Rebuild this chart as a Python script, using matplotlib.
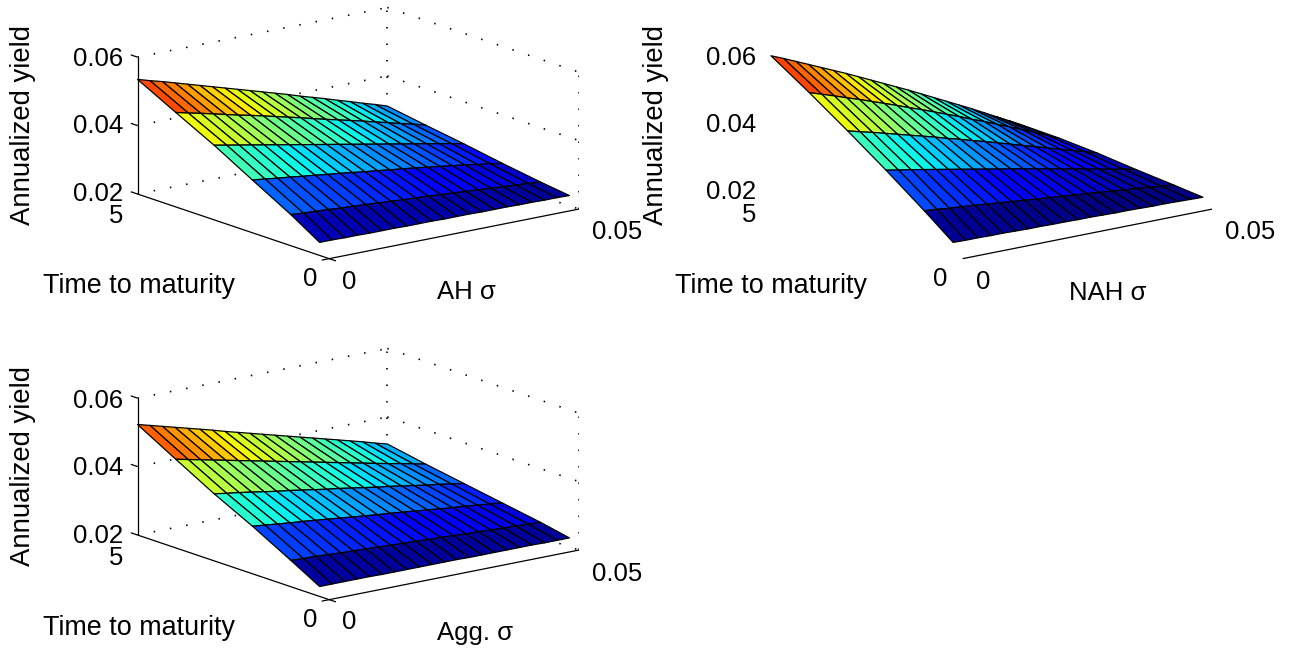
import numpy as np
import matplotlib
matplotlib.use("Agg")
import matplotlib.pyplot as plt
from mpl_toolkits.mplot3d import proj3d

plt.rcParams['font.family'] = ['Liberation Sans', 'DejaVu Sans']

W, H = 1298, 654
sigma = np.array([0.0025 * i for i in range(21)])
maturity = np.array([0.25, 1, 2, 3, 4, 5])

ah_yield = [
 [.0238,.0238,.0237,.0237,.0236,.0236,.0236,.0235,.0235,.0235,.0234,.0234,.0234,.0233,.0233,.0233,.0232,.0232,.0231,.0231,.0230],
 [.0291,.0288,.0286,.0284,.0281,.0279,.0277,.0274,.0272,.0269,.0267,.0265,.0262,.0260,.0257,.0255,.0252,.0249,.0247,.0244,.0241],
 [.0354,.0350,.0345,.0341,.0336,.0332,.0327,.0323,.0318,.0313,.0309,.0304,.0300,.0295,.0290,.0285,.0280,.0275,.0269,.0264,.0258],
 [.0418,.0411,.0404,.0397,.0390,.0383,.0376,.0369,.0362,.0355,.0348,.0341,.0334,.0327,.0320,.0313,.0306,.0299,.0292,.0285,.0277],
 [.0476,.0467,.0459,.0450,.0441,.0432,.0424,.0415,.0406,.0397,.0388,.0378,.0369,.0360,.0351,.0342,.0332,.0323,.0313,.0304,.0294],
 [.0535,.0524,.0514,.0503,.0492,.0481,.0470,.0459,.0448,.0437,.0426,.0415,.0404,.0392,.0381,.0370,.0358,.0347,.0335,.0324,.0312],
]
nah_yield = [
 [.0238,.0237,.0237,.0236,.0236,.0235,.0234,.0234,.0233,.0233,.0232,.0232,.0231,.0230,.0230,.0229,.0228,.0228,.0227,.0226,.0225],
 [.0302,.0299,.0295,.0292,.0289,.0285,.0282,.0278,.0275,.0271,.0268,.0265,.0261,.0258,.0254,.0251,.0247,.0244,.0240,.0236,.0232],
 [.0383,.0376,.0370,.0363,.0356,.0349,.0342,.0335,.0328,.0321,.0314,.0307,.0300,.0292,.0285,.0278,.0270,.0263,.0255,.0248,.0240],
 [.0460,.0450,.0441,.0431,.0421,.0411,.0401,.0391,.0380,.0370,.0359,.0349,.0338,.0327,.0316,.0305,.0294,.0283,.0272,.0261,.0250],
 [.0534,.0522,.0510,.0497,.0485,.0472,.0459,.0446,.0432,.0419,.0405,.0391,.0377,.0362,.0348,.0333,.0318,.0303,.0287,.0272,.0256],
 [.0604,.0589,.0573,.0557,.0541,.0525,.0509,.0492,.0475,.0458,.0441,.0424,.0406,.0388,.0370,.0352,.0334,.0315,.0296,.0277,.0258],
]
agg_yield = [
 [.0229,.0229,.0229,.0229,.0229,.0228,.0228,.0228,.0228,.0228,.0228,.0228,.0227,.0227,.0227,.0227,.0227,.0227,.0226,.0226,.0226],
 [.0277,.0275,.0274,.0272,.0270,.0268,.0267,.0265,.0263,.0262,.0260,.0258,.0257,.0255,.0253,.0252,.0250,.0248,.0247,.0245,.0243],
 [.0339,.0335,.0331,.0327,.0324,.0320,.0316,.0312,.0308,.0304,.0300,.0297,.0293,.0289,.0285,.0281,.0277,.0274,.0270,.0266,.0262],
 [.0396,.0390,.0385,.0379,.0373,.0367,.0362,.0356,.0350,.0344,.0339,.0333,.0327,.0321,.0316,.0310,.0304,.0298,.0293,.0287,.0281],
 [.0459,.0451,.0443,.0435,.0427,.0419,.0411,.0403,.0395,.0387,.0379,.0371,.0363,.0355,.0347,.0339,.0331,.0323,.0316,.0308,.0300],
 [.0523,.0513,.0503,.0493,.0483,.0473,.0463,.0452,.0442,.0432,.0422,.0412,.0402,.0392,.0382,.0372,.0362,.0352,.0342,.0331,.0321],
]
ah_color_limits = (0.0223, 0.0528)
nah_color_limits = (0.0230, 0.0593)
agg_color_limits = (0.0220, 0.0517)
x_limits = (0, 0.05)
t_limits = (0, 5)
z_limits = (0.02, 0.06)
z_ticks = [0.02, 0.04, 0.06]
z_tick_labels = ['0.02', '0.04', '0.06']
y_label = 'Annualized yield'
t_label = 'Time to maturity'

fig = plt.figure(figsize=(W / 100, H / 100), dpi=100)
FS = 18.5


def px_text(x, y, s, **kw):
    kw.setdefault('fontsize', FS)
    kw.setdefault('va', 'center')
    fig.text(x / W, 1 - y / H, s, color='black', **kw)


def project(ax, x, y, z):
    xs, ys, _ = proj3d.proj_transform(x, y, z, ax.get_proj())
    return ax.transData.transform((xs, ys))


def panel(Z, clim, left_px, span_px, boxed):
    Z = np.array(Z)
    ax = fig.add_axes([0.1, 0.1, 0.4, 0.4 * W / H], projection='3d', proj_type='ortho')
    ax.set_box_aspect((1, 1, 0.45))
    ax.view_init(elev=15, azim=-127.5)
    ax.set_xlim(*x_limits, view_margin=0)
    ax.set_ylim(*t_limits, view_margin=0)
    ax.set_zlim(*z_limits, view_margin=0)
    ax.set_axis_off()
    ax.patch.set_alpha(0)
    ax.computed_zorder = False

    # scale and place the axes so the floor corner falls at the wanted pixel
    for _ in range(3):
        ax.apply_aspect()
        a = project(ax, 0, 5, 0.02)
        b = project(ax, 0.05, 0, 0.02)
        pos = ax.get_position()
        scale = span_px / (b[0] - a[0])
        ax.set_position([pos.x0, pos.y0, pos.width * scale, pos.height * scale])
        ax.apply_aspect()
        a = project(ax, 0, 5, 0.02)
        pos = ax.get_position()
        ax.set_position([pos.x0 + (left_px[0] - a[0]) / W,
                         pos.y0 + ((H - left_px[1]) - a[1]) / H,
                         pos.width, pos.height])

    X, Y = np.meshgrid(sigma, maturity)
    norm = plt.Normalize(*clim)
    ax.plot_surface(X, Y, Z, rstride=1, cstride=1, facecolors=plt.cm.jet(norm(Z)),
                    shade=False, edgecolor='black', linewidth=0.9, antialiased=True, zorder=5)

    x0, x1 = x_limits
    t0, t1 = t_limits
    dots = dict(color='black', lw=1.2, linestyle=(0, (0.9, 9)), zorder=1)
    solid = dict(color='black', lw=0.9, zorder=8, solid_capstyle='butt')
    if boxed:
        for z in z_ticks:
            ax.plot([x0, x1], [t1, t1], [z, z], **dots)
            ax.plot([x1, x1], [t1, t0], [z, z], **dots)
        ax.plot([x1, x1], [t1, t1], z_limits, **dots)
        ax.plot([x1, x1], [t0, t0], z_limits, **dots)
        ax.plot([x0, x0], [t1, t1], z_limits, **solid)
        ax.plot([x0, x0], [t1, t0], [z_limits[0]] * 2, **solid)
        dt = 0.035 * (t1 - t0)
        dx = 0.03 * (x1 - x0)
        for z in z_ticks:
            ax.plot([x0, x0], [t1, t1 + dt], [z, z], **solid)
        ax.plot([x0, x0 - dx], [t0, t0], [z_limits[0]] * 2, **solid)
        ax.plot([x0, x0], [t0, t0 - dt], [z_limits[0]] * 2, **solid)
        ax.plot([x1, x1], [t0, t0 - dt], [z_limits[0]] * 2, **solid)
    ax.plot([x0, x1], [t0, t0], [z_limits[0]] * 2, **solid)
    return ax


panel(ah_yield, ah_color_limits, (137.5, 194), 441.5, True)
panel(nah_yield, nah_color_limits, (771, 194), 441.5, False)
panel(agg_yield, agg_color_limits, (137.5, 535), 441.5, True)

YL = 19.8
TL = 19.4

# panel 1 text
px_text(23, 125, y_label, rotation=90, ha='center', fontsize=YL)
for lab, y in zip(z_tick_labels, [194, 126, 59]):
    px_text(123, y, lab, ha='right')
px_text(123, 216, '5', ha='right')
px_text(310, 279, '0', ha='center')
px_text(349, 282, '0', ha='center')
px_text(592, 232, '0.05', ha='left')
px_text(43, 286, t_label, ha='left', fontsize=TL)
px_text(437, 292, 'AH σ', ha='left')

# panel 2 text
px_text(656, 125, y_label, rotation=90, ha='center', fontsize=YL)
for lab, y in zip(z_tick_labels, [192, 125, 58]):
    px_text(756, y, lab, ha='right')
px_text(756, 215, '5', ha='right')
px_text(940, 279, '0', ha='center')
px_text(983, 282, '0', ha='center')
px_text(1225, 232, '0.05', ha='left')
px_text(675, 286, t_label, ha='left', fontsize=TL)
px_text(1069, 293, 'NAH σ', ha='left')

# panel 3 text
px_text(23, 466, y_label, rotation=90, ha='center', fontsize=YL)
for lab, y in zip(z_tick_labels, [536, 468, 401]):
    px_text(123, y, lab, ha='right')
px_text(123, 558, '5', ha='right')
px_text(310, 620, '0', ha='center')
px_text(349, 622, '0', ha='center')
px_text(592, 574, '0.05', ha='left')
px_text(43, 628, t_label, ha='left', fontsize=TL)
px_text(437, 633, 'Agg. σ', ha='left')

fig.savefig('out.png', dpi=100)
